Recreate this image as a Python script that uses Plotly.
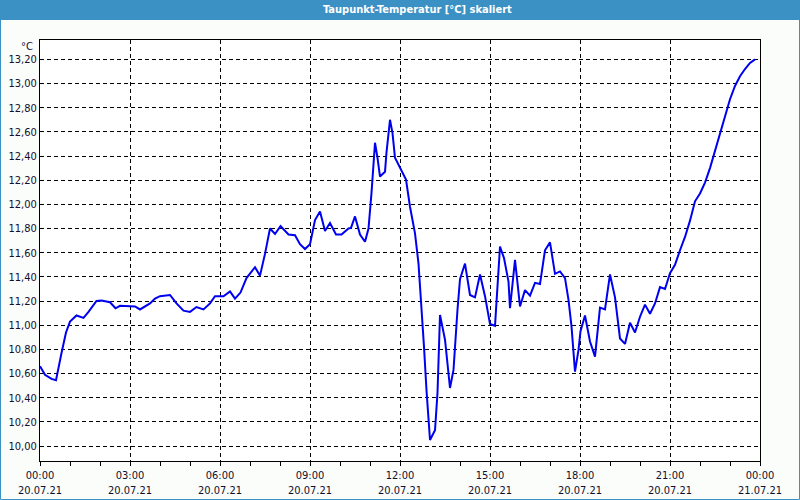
import plotly.graph_objects as go

# --- data ---
times = ["00:00","00:10","00:23","00:32","00:43","00:52","01:00","01:13","01:27","01:37",
         "01:53","02:03","02:20","02:31","02:40","02:50","03:10","03:20","03:40","03:50",
         "04:00","04:20","04:33","04:47","05:00","05:13","05:27","05:40","05:50","06:07",
         "06:20","06:30","06:41","06:53","07:10","07:20","07:30","07:40","07:50","08:01",
         "08:17","08:30","08:40","08:50","09:00","09:10","09:20","09:30","09:40","09:52",
         "10:03","10:17","10:22","10:30","10:40","10:50","10:57","11:03","11:10","11:15",
         "11:20","11:30","11:33","11:40","11:45","11:50","12:01","12:12","12:20","12:30",
         "12:37","12:43","12:48","12:53","13:00","13:10","13:15","13:20","13:30","13:40",
         "13:47","13:55","14:00","14:10","14:20","14:30","14:40","14:50","15:00","15:10",
         "15:20","15:28","15:37","15:40","15:50","16:00","16:10","16:20","16:30","16:40",
         "16:50","17:00","17:10","17:20","17:30","17:37","17:43","17:50","17:57","18:01",
         "18:10","18:20","18:30","18:40","18:50","19:00","19:10","19:20","19:30","19:40",
         "19:50","20:00","20:10","20:20","20:30","20:40","20:50","21:00","21:10","21:20",
         "21:30","21:40","21:50","22:00","22:10","22:20","22:30","22:40","22:50","23:00",
         "23:10","23:20","23:30","23:40","23:50"]
values = [10.66,10.59,10.555,10.545,10.77,10.94,11.03,11.08,11.06,11.11,
          11.20,11.205,11.19,11.14,11.16,11.16,11.155,11.13,11.18,11.22,
          11.24,11.25,11.18,11.12,11.11,11.15,11.13,11.18,11.24,11.24,
          11.28,11.22,11.27,11.39,11.48,11.41,11.59,11.80,11.755,11.82,
          11.75,11.745,11.67,11.63,11.67,11.87,11.94,11.78,11.845,11.75,
          11.75,11.80,11.805,11.90,11.75,11.69,11.80,12.095,12.51,12.385,
          12.23,12.27,12.43,12.70,12.59,12.385,12.30,12.205,11.98,11.76,
          11.51,11.155,10.82,10.46,10.05,10.13,10.44,11.085,10.88,10.48,
          10.63,11.13,11.38,11.51,11.25,11.23,11.42,11.24,11.01,10.995,
          11.65,11.555,11.36,11.14,11.54,11.155,11.29,11.245,11.35,11.34,
          11.62,11.685,11.425,11.445,11.39,11.21,10.99,10.615,10.795,10.95,
          11.08,10.865,10.74,11.145,11.13,11.42,11.23,10.89,10.845,11.02,
          10.94,11.07,11.17,11.095,11.18,11.315,11.30,11.43,11.50,11.62,
          11.73,11.865,12.025,12.09,12.18,12.30,12.44,12.59,12.73,12.87,
          12.98,13.06,13.12,13.17,13.20]
day = "2021-07-20"
title_text = "Taupunkt-Temperatur [°C] skaliert"
unit_text = "°C"
x_range = ["2021-07-20 00:00", "2021-07-21 00:00"]
y_range = [9.876, 13.36]

xs = [f"{day} {t}" for t in times]

W, H = 800, 500
ML, MR, MT, MB = 40, 40, 40, 39
PW, PH = W - ML - MR, H - MT - MB


def px(xp):
    return (xp - ML) / PW


def py(yp):
    return 1 - (yp - MT) / PH


BLUE = "#3c91c4"
TXT = "#10102e"
FONT = "Tahoma, DejaVu Sans Condensed, DejaVu Sans"

fig = go.Figure()
fig.add_trace(go.Scatter(x=xs, y=values, mode="lines",
                         line=dict(color="#0000f0", width=2), hoverinfo="skip"))

fig.update_layout(
    width=W, height=H,
    margin=dict(l=ML, r=MR, t=MT, b=MB, autoexpand=False),
    paper_bgcolor="#fbfdfb", plot_bgcolor="white",
    separators=",.",
    showlegend=False,
    font=dict(family=FONT, size=11, color=TXT),
)
fig.update_xaxes(
    type="date", range=x_range, automargin=False,
    dtick=3 * 3600000, tick0="2021-07-20 00:00",
    tickformat="%H:%M<br>%d.%m.%y",
    ticks="outside", ticklen=4, tickcolor="black",
    showgrid=True, gridcolor="black", gridwidth=1, griddash="4px,3px",
    showline=True, linecolor="black", linewidth=1, mirror=True,
    minor=dict(dtick=3600000, ticks="outside", ticklen=4, tickcolor="black", showgrid=False),
    tickfont=dict(family=FONT, size=11, color=TXT),
    fixedrange=True,
)
fig.update_yaxes(
    range=y_range, tick0=10.0, dtick=0.2, tickformat=".2f", automargin=False,
    ticks="", showgrid=True, gridcolor="black", gridwidth=1, griddash="4px,3px",
    zeroline=False,
    showline=True, linecolor="black", linewidth=1, mirror=True,
    tickfont=dict(family=FONT, size=11, color=TXT),
    fixedrange=True,
)

# title bar and outer border
fig.add_shape(type="rect", xref="paper", yref="paper",
              x0=px(0), x1=px(W), y0=py(20), y1=py(0),
              fillcolor=BLUE, line=dict(width=0), layer="above")
fig.add_shape(type="rect", xref="paper", yref="paper",
              x0=px(0.5), x1=px(W - 0.5), y0=py(H - 0.5), y1=py(0.5),
              line=dict(color=BLUE, width=1), fillcolor="rgba(0,0,0,0)", layer="above")
fig.add_annotation(text=f"<b>{title_text}</b>", xref="paper", yref="paper",
                   x=px(417), y=py(10), xanchor="center", yanchor="middle",
                   showarrow=False, font=dict(family=FONT, size=11, color="white"))
fig.add_annotation(text=unit_text, xref="paper", yref="paper",
                   x=px(35), y=py(46), xanchor="right", yanchor="middle",
                   showarrow=False, font=dict(family=FONT, size=11, color=TXT))

fig.write_html("out.html")
